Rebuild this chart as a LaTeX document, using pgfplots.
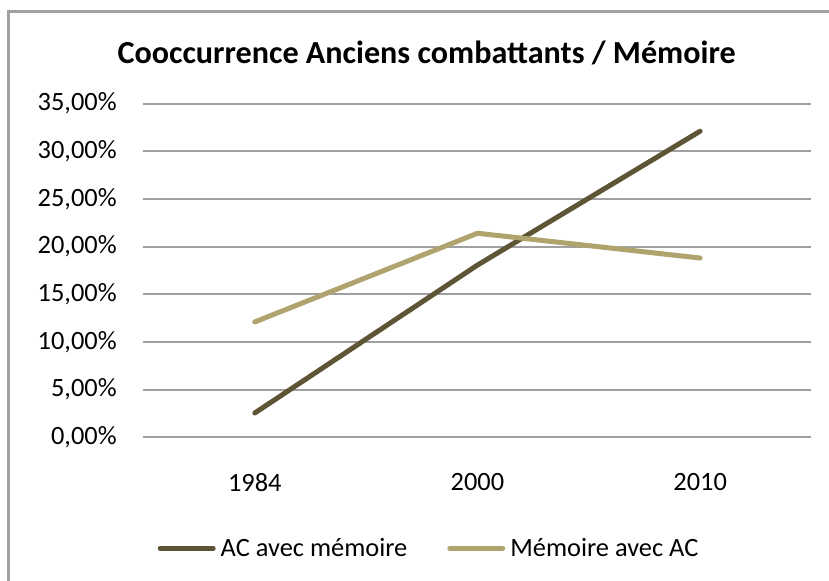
\documentclass[border=0pt]{standalone}
\usepackage{pgfplots}
\pgfplotsset{compat=1.18}
\usepackage{fontspec}
\setmainfont{Carlito}
\definecolor{acdark}{RGB}{94,85,54}
\definecolor{memlight}{RGB}{176,164,110}
\definecolor{gridgray}{RGB}{160,160,160}
\begin{document}
\begin{tikzpicture}
\useasboundingbox (0pt,0pt) rectangle (621.75pt,-435.75pt);
\fill[white] (0pt,0pt) rectangle (621.75pt,-435.75pt);
\draw[gridgray, line width=2pt] (6.5pt,-440pt) -- (6.5pt,-8.75pt) -- (625pt,-8.75pt);
\node[anchor=base, font=\fontsize{24.1}{29}\selectfont\bfseries, inner sep=0pt] at (320pt,-47.5pt) {Cooccurrence Anciens combattants / Mémoire};
\begin{axis}[
  at={(107.6pt,-328pt)}, anchor=south west,
  scale only axis, width=501pt, height=250.35pt,
  xmin=-0.5, xmax=2.5, ymin=0, ymax=35,
  xtick=data, xticklabels={1984,2000,2010},
  ytick={0,5,10,15,20,25,30,35},
  yticklabels={{0,00\%},{5,00\%},{10,00\%},{15,00\%},{20,00\%},{25,00\%},{30,00\%},{35,00\%}},
  axis line style={draw=none},
  tick style={draw=none},
  ymajorgrids,
  major grid style={gridgray, line width=1.5pt},
  ticklabel style={font=\fontsize{19.8}{24}\selectfont},
  yticklabel style={anchor=east, inner sep=0pt, xshift=-19.9pt},
  xticklabel style={anchor=north, inner sep=0pt, yshift=-27pt},
  legend columns=2,
  legend style={draw=none, fill=none, at={(0.426,-0.3325)}, anchor=center,
    font=\fontsize{19.8}{24}\selectfont, inner sep=0pt,
    nodes={inner sep=0pt},
    /tikz/every odd column/.append style={column sep=3.75pt},
    /tikz/every even column/.append style={column sep=30pt}},
  legend image code/.code={\draw[#1, line cap=round] (0pt,0pt) -- (39.75pt,0pt);},
  clip=false,
]
\addplot[acdark, line width=3.75pt, line cap=round, line join=round] coordinates {(0,2.55) (1,18.06) (2,32.1)};
\addlegendentry{AC avec mémoire}
\addplot[memlight, line width=3.75pt, line cap=round, line join=round] coordinates {(0,12.1) (1,21.4) (2,18.8)};
\addlegendentry{Mémoire avec AC}
\end{axis}
\end{tikzpicture}
\end{document}
